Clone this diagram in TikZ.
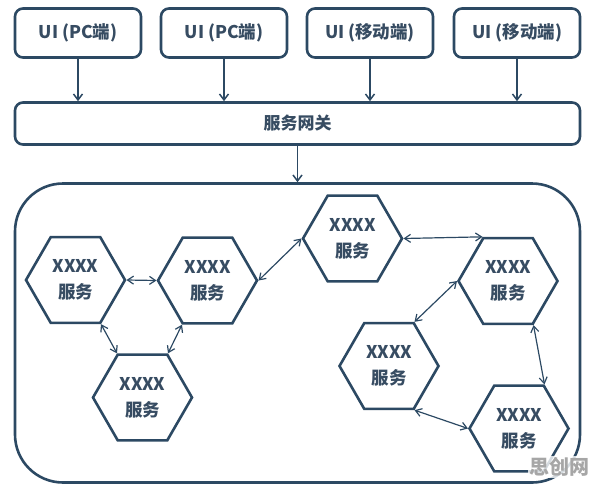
\documentclass[tikz,border=0pt]{standalone}
\usepackage{fontspec}
\setmainfont{Noto Sans CJK SC}
\usetikzlibrary{arrows.meta,shapes.geometric}
\definecolor{linecol}{RGB}{44,73,99}
\definecolor{txtcol}{RGB}{55,76,98}
\tikzset{
  uibox/.style={draw=linecol, line width=2.6pt, rounded corners=8pt,
    minimum width=126pt, minimum height=49pt, text=txtcol,
    font=\bfseries\fontsize{17.5}{19}\selectfont},
  hexa/.style={regular polygon, regular polygon sides=6, minimum size=99pt,
    draw=linecol, line width=2.6pt, inner sep=0pt, align=center, text=txtcol,
    font=\bfseries\fontsize{17.5}{26}\selectfont},
  arr/.style={-{Straight Barb[length=6pt,width=9pt]}, draw=linecol, line width=1.5pt},
  link/.style={{Straight Barb[length=6pt,width=8pt]}-{Straight Barb[length=6pt,width=8pt]},
    draw=linecol, line width=1.2pt},
}
\begin{document}
\begin{tikzpicture}[x=1pt,y=-1pt]
\useasboundingbox (0,0) rectangle (596,485);
% clients
\node[uibox] (ui1) at (78,33) {UI (PC端)};
\node[uibox] (ui2) at (224,33) {UI (PC端)};
\node[uibox] (ui3) at (370,33) {UI (移动端)};
\node[uibox] (ui4) at (517,33) {UI (移动端)};
% gateway
\node[uibox, minimum width=565pt, minimum height=42pt,
  font=\bfseries\fontsize{17}{19}\selectfont] (gw) at (297.5,123.5) {服务网关};
\foreach \u in {ui1,ui2,ui3,ui4}
  \draw[arr] (\u) -- (\u |- gw.north);
% services area
\node[draw=linecol, line width=2.6pt, rounded corners=48pt,
  minimum width=565pt, minimum height=299pt] (area) at (297.5,333) {};
\draw[arr] (gw) -- (area.north);
% left group
\node[hexa] (s1) at (75.5,280) {XXXX\\服务};
\node[hexa] (s2) at (207.5,280.5) {XXXX\\服务};
\node[hexa] (s3) at (142.5,397.5) {XXXX\\服务};
% right group
\node[hexa] (s4) at (352.5,238.5) {XXXX\\服务};
\node[hexa] (s5) at (508,281) {XXXX\\服务};
\node[hexa] (s6) at (389,366) {XXXX\\服务};
\node[hexa] (s7) at (519,428.5) {XXXX\\服务};
% links
\draw[link] (s1.0) -- (s2.180);
\draw[link] (s1.300) -- (s3.120);
\draw[link] (s2.240) -- (s3.60);
\draw[link] (s2.0) -- (s4.180);
\draw[link] (s4.0) -- (s5.120);
\draw[link] (s5.180) -- (s6.60);
\draw[link] (s5.300) -- (s7.60);
\draw[link] (s6.300) -- (s7.180);
% watermark
\node[fill=white, fill opacity=0.8, text opacity=1, text=black!35, inner sep=1pt,
  font=\bfseries\fontsize{20}{20}\selectfont] (wm) at (559,467) {思创网};
\end{tikzpicture}
\end{document}
